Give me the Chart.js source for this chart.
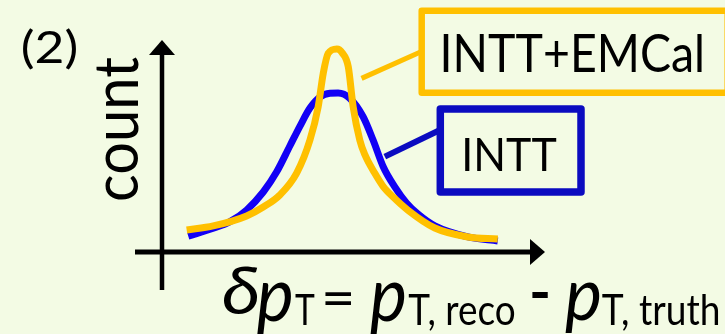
<!DOCTYPE html>
<html>
<head>
<meta charset="utf-8">
<script src="https://cdn.jsdelivr.net/npm/chart.js@4/dist/chart.umd.min.js"></script>
<style>
  html, body { margin: 0; padding: 0; background: #F3FBE4; }
  #wrap { width: 725px; height: 334px; }
</style>
</head>
<body>
<div id="wrap"><canvas id="c" width="725" height="334"></canvas></div>
<script>
// δpT (arbitrary units) and normalised counts for each reconstruction
const inttEmcalDpt = [-0.859, -0.707, -0.516, -0.421, -0.326, -0.230, -0.154, -0.107, -0.078, -0.050, 0.000, 0.030, 0.065, 0.093, 0.131, 0.160, 0.217, 0.263, 0.322, 0.408, 0.560, 0.749, 0.920];
const inttEmcalCount = [0.104, 0.123, 0.170, 0.212, 0.269, 0.372, 0.528, 0.685, 0.843, 0.937, 0.958, 0.940, 0.874, 0.685, 0.528, 0.459, 0.371, 0.311, 0.259, 0.196, 0.113, 0.071, 0.061];

const inttDpt = [-0.850, -0.707, -0.611, -0.516, -0.421, -0.345, -0.269, -0.211, -0.154, -0.097, -0.040, 0.007, 0.074, 0.150, 0.207, 0.265, 0.331, 0.398, 0.463, 0.560, 0.749, 0.920];
const inttCount = [0.075, 0.112, 0.143, 0.198, 0.283, 0.377, 0.500, 0.594, 0.679, 0.731, 0.749, 0.750, 0.725, 0.638, 0.528, 0.402, 0.307, 0.231, 0.179, 0.123, 0.071, 0.052];

// labels
const seriesNames = ['INTT+EMCal', 'INTT'];
const panelTag = '(2)';
const yTitle = 'count';

// callout anchor points on the curves (data units)
const calloutAnchors = [{ x: 0.141, y: 0.819 }, { x: 0.274, y: 0.450 }];

const ORANGE = '#FFC000';
const BLUE = '#1200F5';
const BOX_BLUE = '#0B0BC0';
const BG = '#F3FBE4';

function toPoints(xs, ys) { return xs.map((x, i) => ({ x: x, y: ys[i] })); }

// draw text so its ink spans [l, r] horizontally, sitting on baseline
function fitText(ctx, text, font, l, r, baseline) {
  ctx.save();
  ctx.font = font;
  const m = ctx.measureText(text);
  const w = m.actualBoundingBoxLeft + m.actualBoundingBoxRight;
  ctx.translate(l, baseline);
  ctx.scale((r - l) / w, 1);
  ctx.fillText(text, m.actualBoundingBoxLeft, 0);
  ctx.restore();
}
// draw text so its ink fills the box [l, r] x [t, b]
function fitBox(ctx, text, font, l, t, r, b) {
  ctx.save();
  ctx.font = font;
  const m = ctx.measureText(text);
  const w = m.actualBoundingBoxLeft + m.actualBoundingBoxRight;
  const h = m.actualBoundingBoxAscent + m.actualBoundingBoxDescent;
  ctx.translate(l, t);
  ctx.scale((r - l) / w, (b - t) / h);
  ctx.fillText(text, m.actualBoundingBoxLeft, m.actualBoundingBoxAscent);
  ctx.restore();
}

const decor = {
  id: 'decor',
  beforeDraw(chart) {
    const ctx = chart.ctx;
    ctx.save();
    ctx.fillStyle = BG;
    ctx.fillRect(0, 0, chart.width, chart.height);
    ctx.restore();
  },
  afterDraw(chart) {
    const ctx = chart.ctx;
    const xs = chart.scales.x, ys = chart.scales.y;
    const ox = xs.left, oy = ys.getPixelForValue(0);
    const tipY = ys.top, tipX = xs.right;

    ctx.save();
    ctx.fillStyle = '#000';
    ctx.strokeStyle = '#000';
    // vertical axis with arrow
    ctx.lineWidth = 4.5;
    ctx.beginPath();
    ctx.moveTo(ox, oy + 38);
    ctx.lineTo(ox, tipY + 13);
    ctx.stroke();
    ctx.beginPath();
    ctx.moveTo(ox, tipY);
    ctx.lineTo(ox - 13, tipY + 15);
    ctx.lineTo(ox + 13, tipY + 15);
    ctx.closePath();
    ctx.fill();
    // horizontal axis with arrow
    ctx.lineWidth = 5;
    ctx.beginPath();
    ctx.moveTo(ox - 27, oy);
    ctx.lineTo(tipX - 13, oy);
    ctx.stroke();
    ctx.beginPath();
    ctx.moveTo(tipX, oy);
    ctx.lineTo(tipX - 15, oy - 13);
    ctx.lineTo(tipX - 15, oy + 13);
    ctx.closePath();
    ctx.fill();

    // callout lines
    ctx.lineCap = 'butt';
    const a0 = calloutAnchors[0], a1 = calloutAnchors[1];
    ctx.strokeStyle = ORANGE;
    ctx.lineWidth = 5;
    ctx.beginPath();
    ctx.moveTo(xs.getPixelForValue(a0.x), ys.getPixelForValue(a0.y));
    ctx.lineTo(421, 51.7);
    ctx.stroke();
    ctx.strokeStyle = BOX_BLUE;
    ctx.lineWidth = 6;
    ctx.beginPath();
    ctx.moveTo(xs.getPixelForValue(a1.x), ys.getPixelForValue(a1.y));
    ctx.lineTo(440, 130);
    ctx.stroke();

    // callout boxes
    ctx.lineJoin = 'round';
    ctx.strokeStyle = ORANGE;
    ctx.lineWidth = 6.5;
    ctx.strokeRect(421.7, 10.7, 306, 82);
    ctx.strokeStyle = BOX_BLUE;
    ctx.lineWidth = 7.5;
    ctx.strokeRect(440.3, 109, 140.7, 83);

    ctx.fillStyle = '#000';
    fitText(ctx, seriesNames[0], '53px Lato', 443, 702, 72);
    fitText(ctx, seriesNames[1], '47px Lato', 465, 557, 171);

    // panel tag
    fitBox(ctx, panelTag, '41px Lato', 22, 28, 77, 70);

    // vertical title
    ctx.save();
    ctx.translate(138, 200);
    ctx.rotate(-Math.PI / 2);
    fitText(ctx, yTitle, '61px Lato', 0, 143, 0);
    ctx.restore();

    // horizontal title: δpT = pT,reco - pT,truth
    const mainIt = 'italic 60px Lato';
    const sub = '42px Lato';
    fitBox(ctx, 'δ', mainIt, 223.3, 267, 258.3, 314);
    fitBox(ctx, 'p', mainIt, 256.7, 281.7, 291.7, 333.3);
    fitText(ctx, 'T', sub, 295, 315, 325);
    fitBox(ctx, '=', '60px Lato', 325, 291.7, 351.7, 305);
    fitBox(ctx, 'p', mainIt, 370, 281.7, 405, 333.3);
    fitText(ctx, 'T, reco', sub, 408.3, 515, 325);
    fitBox(ctx, '-', '60px Lato', 531.7, 291.7, 548.3, 298.3);
    fitBox(ctx, 'p', mainIt, 565, 281.7, 600, 331.7);
    fitText(ctx, 'T, truth', sub, 601.7, 718.3, 325);
    ctx.restore();
  }
};

new Chart(document.getElementById('c'), {
  type: 'line',
  data: {
    datasets: [
      {
        label: seriesNames[0],
        data: toPoints(inttEmcalDpt, inttEmcalCount),
        borderColor: ORANGE,
        borderWidth: 7,
        pointRadius: 0,
        fill: false,
        cubicInterpolationMode: 'monotone'
      },
      {
        label: seriesNames[1],
        data: toPoints(inttDpt, inttCount),
        borderColor: BLUE,
        borderWidth: 7,
        pointRadius: 0,
        fill: false,
        cubicInterpolationMode: 'monotone'
      }
    ]
  },
  options: {
    responsive: false,
    devicePixelRatio: 1,
    animation: false,
    layout: { padding: { left: 162, right: 180, top: 40, bottom: 82 } },
    plugins: { legend: { display: false }, tooltip: { enabled: false } },
    scales: {
      x: { type: 'linear', display: false, min: -1, max: 1.19 },
      y: { type: 'linear', display: false, min: 0, max: 1 }
    }
  },
  plugins: [decor]
});
</script>
</body>
</html>
